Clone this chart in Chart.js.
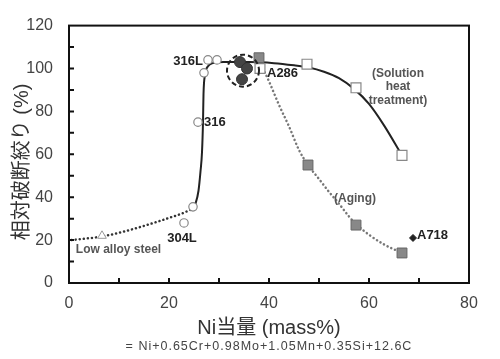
<!DOCTYPE html>
<html lang="ja">
<head>
    <meta charset="UTF-8">
    <title>Ni当量と相対破断絞り</title>
    <script src="https://cdn.jsdelivr.net/npm/chart.js"></script>
    <style>
        html, body { margin: 0; padding: 0; background: #fff; }
        #wrap { width: 500px; height: 359px; position: relative; }
    </style>
</head>
<body>
<div id="wrap"><canvas id="c"></canvas></div>
<script>
    // measured points
    const openCircleX = [27.8, 29.6, 27.0, 25.8, 23.0, 24.8];
    const openCircleY = [104, 104, 98, 75, 28, 35.5];
    const a286X = [34.2, 35.6, 34.6];
    const a286Y = [103, 100, 95];
    const agingX = [38.0, 47.8, 57.4, 66.6];
    const agingY = [105, 55, 27, 14];
    const solutionX = [38.2, 47.6, 57.4, 66.6];
    const solutionY = [100, 102, 91, 59.5];
    const lowAlloyX = [6.6];
    const lowAlloyY = [22];
    const a718X = [68.8];
    const a718Y = [21];

    // trend curves
    const solCurveX = [24.6, 25.3, 25.9, 26.3, 26.6, 26.8, 26.9, 27.2, 27.8, 28.8, 31, 36, 41, 45, 48, 51, 54, 57, 60, 63, 66.6];
    const solCurveY = [34, 37, 43, 52, 61, 75, 88, 97, 101, 102.5, 103, 103, 102.5, 101.5, 100.5, 98.5, 95.5, 90.5, 83.5, 73.5, 59.5];
    const lowCurveX = [0.5, 6.6, 11, 14.8, 18, 20.2, 22.5, 24.6];
    const lowCurveY = [20, 21.7, 24, 26.5, 28.8, 30.5, 32.3, 34.5];
    const agingCurveX = [38.8, 40, 42, 44, 46, 47.8, 50, 52, 54, 56, 57.4, 60, 63, 66.6];
    const agingCurveY = [100, 94, 83, 73, 62, 55, 48.5, 42.5, 37, 31, 27.5, 22.5, 18, 14];

    const xTicks = [0, 20, 40, 60, 80];
    const yTicks = [0, 20, 40, 60, 80, 100, 120];

    // text labels [text, x, y]
    const labels = [
        ['316L', 26.8, 103.5, 'right'],
        ['316', 27.0, 75, 'left'],
        ['304L', 22.6, 21, 'center'],
        ['A286', 39.6, 97.5, 'left'],
        ['A718', 69.6, 22, 'left']
    ];
    const smallLabels = [
        ['(Solution', 65.8, 97.5],
        ['heat', 65.8, 91.3],
        ['treatment)', 65.8, 85],
        ['(Aging)', 57.2, 39.5],
        ['Low alloy steel', 9.9, 15.7]
    ];
    const ringCenter = [34.8, 99];

    const FONT = "Arial, 'Liberation Sans', 'Noto Sans CJK JP', sans-serif";

    const pts = (xs, ys) => xs.map((x, i) => ({ x: x, y: ys[i] }));

    const decor = {
        id: 'decor',
        afterDatasetsDraw(chart) {
            const ctx = chart.ctx;
            const xs = chart.scales.x, ys = chart.scales.y;
            const a = chart.chartArea;
            ctx.save();
            // dashed ring around A286
            ctx.beginPath();
            ctx.setLineDash([5, 3]);
            ctx.lineWidth = 2;
            ctx.strokeStyle = '#222';
            ctx.arc(xs.getPixelForValue(ringCenter[0]), ys.getPixelForValue(ringCenter[1]), 16, 0, Math.PI * 2);
            ctx.stroke();
            ctx.setLineDash([]);

            // frame
            ctx.lineWidth = 2;
            ctx.strokeStyle = '#111';
            ctx.strokeRect(a.left, a.top, a.right - a.left, a.bottom - a.top);
            // inward ticks
            ctx.beginPath();
            for (let v = 10; v < 80; v += 10) {
                const px = xs.getPixelForValue(v);
                ctx.moveTo(px, a.bottom); ctx.lineTo(px, a.bottom - 5);
            }
            for (let v = 10; v < 120; v += 10) {
                const py = ys.getPixelForValue(v);
                ctx.moveTo(a.left, py); ctx.lineTo(a.left + 5, py);
            }
            ctx.stroke();

            // labels
            ctx.textBaseline = 'middle';
            ctx.fillStyle = '#222';
            ctx.font = 'bold 13px ' + FONT;
            labels.forEach(l => {
                ctx.textAlign = l[3];
                ctx.fillText(l[0], xs.getPixelForValue(l[1]), ys.getPixelForValue(l[2]));
            });
            ctx.fillStyle = '#555';
            ctx.font = 'bold 12px ' + FONT;
            ctx.textAlign = 'center';
            smallLabels.forEach(l => {
                ctx.fillText(l[0], xs.getPixelForValue(l[1]), ys.getPixelForValue(l[2]));
            });

            // axis titles
            ctx.fillStyle = '#333';
            ctx.font = '20px ' + FONT;
            ctx.fillText('Ni当量 (mass%)', (a.left + a.right) / 2, 328);
            ctx.font = '12.5px ' + FONT;
            ctx.fillStyle = '#444';
            ctx.letterSpacing = '1px';
            ctx.fillText('= Ni+0.65Cr+0.98Mo+1.05Mn+0.35Si+12.6C', (a.left + a.right) / 2, 347);
            ctx.letterSpacing = '0px';
            ctx.translate(22, 162);
            ctx.rotate(-Math.PI / 2);
            ctx.fillStyle = '#333';
            ctx.font = '20px ' + FONT;
            ctx.fillText('相対破断絞り (%)', 0, 0);
            ctx.restore();
        }
    };

    new Chart(document.getElementById('c'), {
        type: 'scatter',
        data: {
            datasets: [
                { data: pts(a718X, a718Y), pointStyle: 'rectRot', pointRadius: 3.5, backgroundColor: '#222', borderColor: '#222', borderWidth: 1 },
                { data: pts(a286X, a286Y), pointStyle: 'circle', pointRadius: 5.5, backgroundColor: '#444', borderColor: '#333', borderWidth: 1 },
                { data: pts(agingX, agingY), pointStyle: 'rect', pointRadius: 7, backgroundColor: '#888', borderColor: '#666', borderWidth: 1 },
                { data: pts(solutionX, solutionY), pointStyle: 'rect', pointRadius: 7, backgroundColor: '#fff', borderColor: '#888', borderWidth: 1.2 },
                { data: pts(openCircleX, openCircleY), pointStyle: 'circle', pointRadius: 4.2, backgroundColor: '#fff', borderColor: '#888', borderWidth: 1.2 },
                { data: pts(lowAlloyX, lowAlloyY), pointStyle: 'triangle', pointRadius: 5, backgroundColor: '#fff', borderColor: '#999', borderWidth: 1 },
                { data: pts(solCurveX, solCurveY), showLine: true, pointRadius: 0, borderColor: '#222', borderWidth: 2, cubicInterpolationMode: 'monotone' },
                { data: pts(lowCurveX, lowCurveY), showLine: true, pointRadius: 0, borderColor: '#333', borderWidth: 2.5, borderDash: [0.1, 4], borderCapStyle: 'round', cubicInterpolationMode: 'monotone' },
                { data: pts(agingCurveX, agingCurveY), showLine: true, pointRadius: 0, borderColor: '#777', borderWidth: 2.5, borderDash: [0.1, 4], borderCapStyle: 'round', cubicInterpolationMode: 'monotone' }
            ]
        },
        options: {
            responsive: true,
            maintainAspectRatio: false,
            animation: false,
            layout: { padding: { top: 23, right: 31, left: 0, bottom: 0 } },
            plugins: { legend: { display: false }, tooltip: { enabled: false } },
            scales: {
                x: {
                    type: 'linear', min: 0, max: 80,
                    afterBuildTicks: s => { s.ticks = xTicks.map(v => ({ value: v })); },
                    afterFit: s => { s.height = 76; },
                    grid: { display: false, drawTicks: false },
                    border: { display: false },
                    ticks: { padding: 11, color: '#444', font: { size: 16, family: FONT } }
                },
                y: {
                    type: 'linear', min: 0, max: 120,
                    afterBuildTicks: s => { s.ticks = yTicks.map(v => ({ value: v })); },
                    afterFit: s => { s.width = 69; },
                    grid: { display: false, drawTicks: false },
                    border: { display: false },
                    ticks: { padding: 16, color: '#444', font: { size: 16, family: FONT } }
                }
            }
        },
        plugins: [decor]
    });
</script>
</body>
</html>
